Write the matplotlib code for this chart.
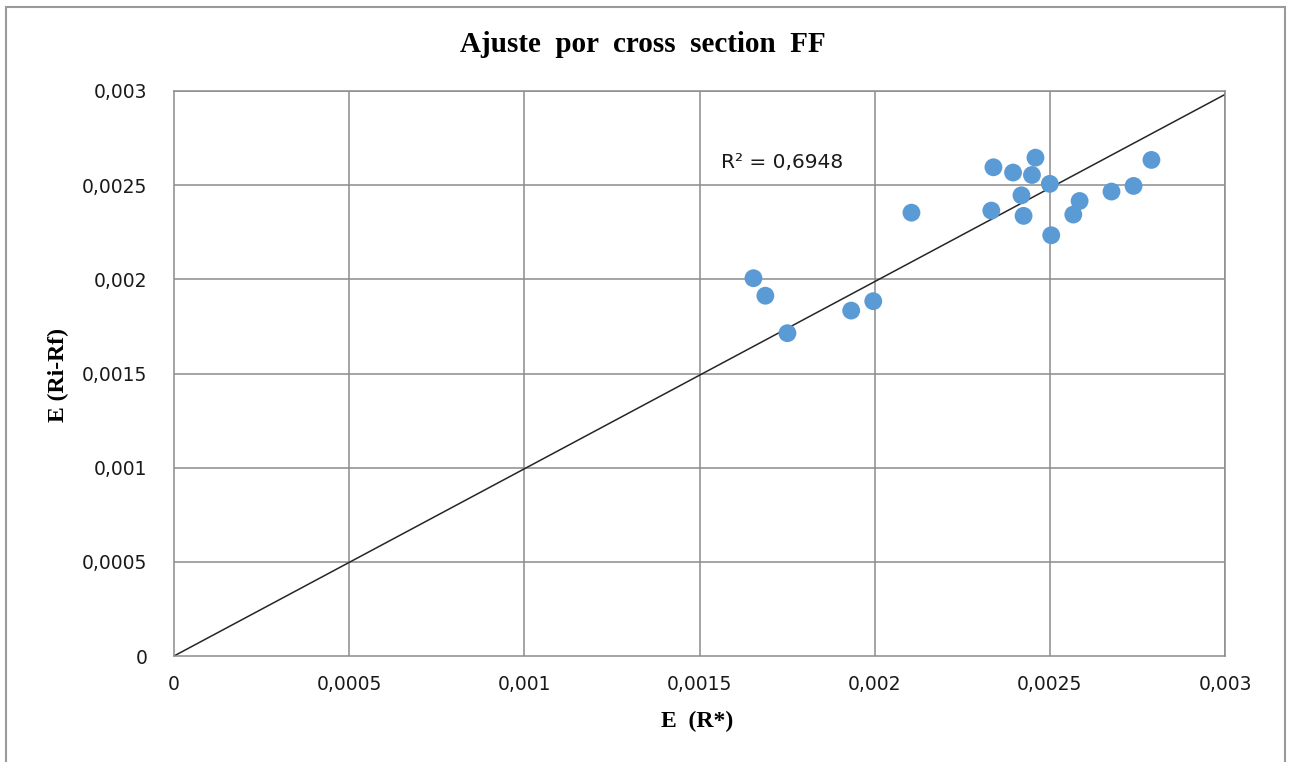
import numpy as np
import matplotlib as mpl
mpl.use('Agg')
import matplotlib.pyplot as plt
from matplotlib.patches import Rectangle
from matplotlib.ticker import FuncFormatter

# data
x_rstar = [0.001654, 0.001688, 0.001751, 0.001933, 0.001996, 0.002105,
           0.002339, 0.002333, 0.002395, 0.002449, 0.002459, 0.002419,
           0.002425, 0.002500, 0.002504, 0.002585, 0.002567, 0.002676,
           0.002739, 0.002790]
y_rirf = [0.002006, 0.001913, 0.001714, 0.001834, 0.001884, 0.002354,
          0.002595, 0.002365, 0.002567, 0.002554, 0.002646, 0.002446,
          0.002337, 0.002507, 0.002234, 0.002416, 0.002344, 0.002466,
          0.002496, 0.002634]
r2_text = 'R² = 0,6948'
ticks = [0, 0.0005, 0.001, 0.0015, 0.002, 0.0025, 0.003]

x = np.array(x_rstar)
y = np.array(y_rirf)
slope = np.sum(x*y)/np.sum(x*x)   # trend line forced through origin

W, H, dpi = 1293, 762, 100
fig = plt.figure(figsize=(W/dpi, H/dpi), dpi=dpi)
fig.patches.append(Rectangle((6/W, -0.05), (1285-6)/W, 1.05-7/H,
                             transform=fig.transFigure, fill=False,
                             edgecolor='#9a9a9a', lw=1.5))

ax = fig.add_axes([174/W, 1-656/H, (1225-174)/W, (656-91)/H])
gc = '#8c8c8c'
for t in ticks[1:]:
    ax.axvline(t, color=gc, lw=1.1, zorder=0)
    ax.axhline(t, color=gc, lw=1.1, zorder=0)
for s in ax.spines.values():
    s.set_color(gc)
    s.set_linewidth(1.1)

ax.scatter(x, y, s=165, color='#5b9bd5', edgecolors='none', zorder=3)
xl = np.array([0, 0.003])
ax.plot(xl, slope*xl, color='#262626', lw=1.1, zorder=2)

ax.set_xlim(0, 0.003)
ax.set_ylim(0, 0.003)
ax.set_xticks(ticks)
ax.set_yticks(ticks)
fmt = FuncFormatter(lambda v, p: ('%g' % v).replace('.', ','))
ax.xaxis.set_major_formatter(fmt)
ax.yaxis.set_major_formatter(fmt)
ax.tick_params(length=0, labelsize=13.5, labelcolor='#1a1a1a')
ax.tick_params(axis='x', pad=14)
ax.tick_params(axis='y', pad=19)

ax.text(0.00156, 0.00262, r2_text, fontsize=14.5, color='#1a1a1a',
        ha='left', va='center')

serif = ['Liberation Serif', 'DejaVu Serif']
fig.text(643/W, 1-44/H, 'Ajuste  por  cross  section  FF', family=serif,
         fontweight='bold', fontsize=21, ha='center', va='center')
fig.text(697/W, 1-721/H, 'E  (R*)', family=serif, fontweight='bold',
         fontsize=17, ha='center', va='center')
fig.text(58/W, 1-375/H, 'E (Ri-Rf)', family=serif, fontweight='bold',
         fontsize=17, ha='center', va='center', rotation=90)

plt.savefig('out.png', dpi=dpi, facecolor='w')
